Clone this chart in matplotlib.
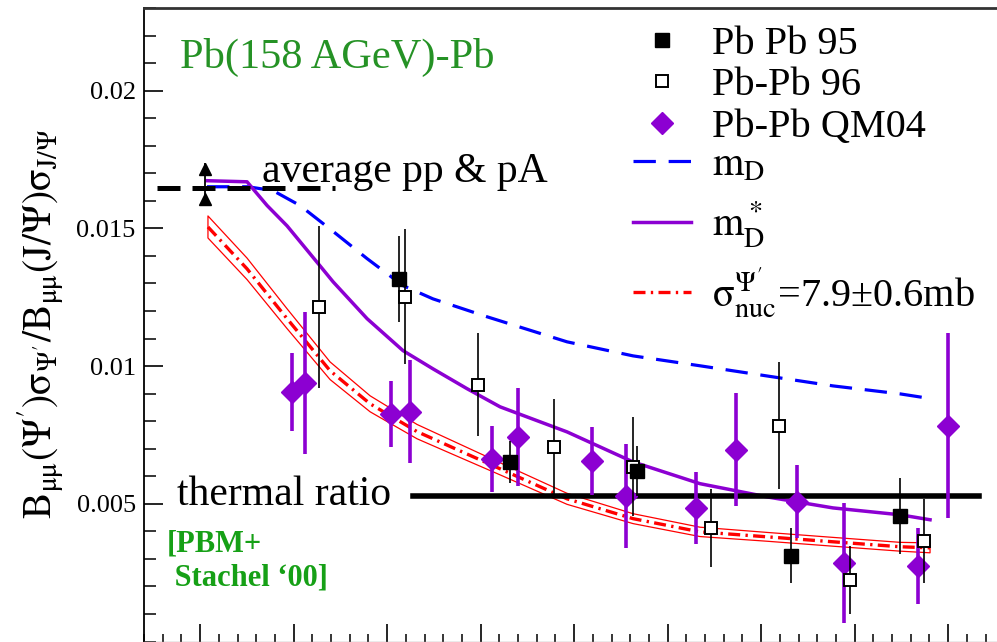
import matplotlib

matplotlib.use("Agg")
import matplotlib.pyplot as plt
from matplotlib.ticker import MultipleLocator, FixedLocator

plt.rcParams["font.family"] = ["Liberation Serif", "DejaVu Serif"]
plt.rcParams["mathtext.fontset"] = "stix"

PURPLE = "#8C00D2"
GREEN = "#259225"

# Pb-Pb 95 (filled squares)
pb95_x = [156.4, 215.7, 283.6, 366.0, 424.3]
pb95_y = [0.01317, 0.00653, 0.00620, 0.00311, 0.00456]
pb95_err = [0.00157, 0.00076, 0.00090, 0.00100, 0.00138]

# Pb-Pb 96 (open squares)
pb96_x = [113.6, 159.6, 198.6, 239.3, 281.5, 323.2, 359.6, 397.5, 437.1]
pb96_y = [0.01215, 0.01252, 0.00932, 0.00707, 0.00634, 0.00413, 0.00783, 0.00224, 0.00366]
pb96_err = [0.00294, 0.00244, 0.00187, 0.00174, 0.00180, 0.00142, 0.00230, 0.00123, 0.00153]

# Pb-Pb QM04 (diamonds)
qm04_x = [99.1, 106.1, 152.1, 162.2, 206.1, 220.0, 259.6, 277.8, 315.2, 336.6, 369.2, 394.3, 433.9, 449.9]
qm04_y = [0.00907, 0.00939, 0.00827, 0.00834, 0.00663, 0.00743, 0.00656, 0.00529, 0.00485,
          0.00696, 0.00507, 0.00286, 0.00275, 0.00783]
qm04_err = [0.00142, 0.00258, 0.00120, 0.00187, 0.00120, 0.00178, 0.00123, 0.00189, 0.00130,
            0.00205, 0.00133, 0.00218, 0.00138, 0.00336]

# m_D (blue dashed)
md_x = [53.7, 75.6, 89.0, 103.4, 121.1, 139.3, 158.5, 174.5, 203.4, 246.2, 281.5, 317.3, 353.2, 388.4, 424.3, 441.4]
md_y = [0.01651, 0.01651, 0.01637, 0.01583, 0.01489, 0.01390, 0.01292, 0.01244, 0.01179, 0.01088,
        0.01037, 0.01001, 0.00964, 0.00928, 0.00899, 0.00881]

# m_D* (purple solid)
mds_x = [53.7, 75.1, 85.8, 96.5, 114.1, 121.1, 139.3, 158.5, 174.5, 192.7, 210.4, 246.2, 281.5, 317.3,
         353.2, 388.4, 424.3, 440.3]
mds_y = [0.01673, 0.01669, 0.01583, 0.01509, 0.01364, 0.01306, 0.01172, 0.01056, 0.00990, 0.00918,
         0.00852, 0.00761, 0.00652, 0.00573, 0.00525, 0.00485, 0.00460, 0.00442]

# sigma_nuc = 7.9 +- 0.6 mb (red dash-dot with band)
nuc_x = [54.2, 75.1, 96.5, 119.5, 140.9, 166.0, 189.0, 210.4, 246.2, 281.5, 317.3, 353.2, 388.4, 424.3, 440.3]
nuc_y = [0.01505, 0.01353, 0.01172, 0.00983, 0.00863, 0.00762, 0.00692, 0.00627, 0.00518, 0.00446,
         0.00398, 0.00380, 0.00362, 0.00344, 0.00340]
nuc_hi = [0.01545, 0.01392, 0.01208, 0.01015, 0.00892, 0.00788, 0.00716, 0.00649, 0.00538, 0.00464,
          0.00415, 0.00396, 0.00378, 0.00360, 0.00358]
nuc_lo = [0.01465, 0.01314, 0.01136, 0.00951, 0.00834, 0.00736, 0.00668, 0.00605, 0.00498, 0.00428,
          0.00381, 0.00364, 0.00346, 0.00328, 0.00322]

# reference levels
avg_x = [27.0, 122.1]
avg_y = 0.01647
avg_pt_x = 52.6
avg_err = [[0.00062], [0.00091]]
avg_tri_y = [0.01716, 0.01607]
thermal_x = [163.9, 466.5]
thermal_y = 0.00527

y_major = [0.005, 0.01, 0.015, 0.02]
y_labels = ["0.005", "0.01", "0.015", "0.02"]

fig = plt.figure(figsize=(9.97, 6.42), dpi=100)
ax = fig.add_axes([144 / 997, 0.5 / 642, 1 - 144 / 997, 633.5 / 642])
ax.set_xlim(20, 476.1)
ax.set_ylim(0, 0.023)

# theory curves
ax.fill_between(nuc_x, nuc_lo, nuc_hi, facecolor="none", edgecolor="red", linewidth=0.9, zorder=2)
l_nuc, = ax.plot(nuc_x, nuc_y, color="red", linewidth=2.4, linestyle=(0, (3.6, 1.6, 0.7, 1.6)), zorder=3,
                 label=r"$\mathrm{\sigma^{\Psi'}_{nuc}}$=7.9±0.6mb")
l_md, = ax.plot(md_x, md_y, color="blue", linewidth=2.3, linestyle=(0, (7, 4)), zorder=3, label=r"$\mathrm{m_D}$")
l_mds, = ax.plot(mds_x, mds_y, color=PURPLE, linewidth=2.5, zorder=3, label=r"$\mathrm{m_D^*}$")

# reference lines
ax.plot(avg_x, [avg_y, avg_y], color="black", linewidth=3.6, linestyle=(0, (4.6, 2.4)), zorder=4)
ax.errorbar([avg_pt_x], [avg_y], yerr=avg_err, fmt="none", ecolor="black", elinewidth=1.3, zorder=5)
ax.plot([avg_pt_x, avg_pt_x], avg_tri_y, linestyle="none", marker="^", color="black", markersize=8, zorder=5)
ax.plot(thermal_x, [thermal_y, thermal_y], color="black", linewidth=4.0, zorder=4)

# data
ax.errorbar(qm04_x, qm04_y, yerr=qm04_err, fmt="none", ecolor=PURPLE, elinewidth=2.6, zorder=5)
m_qm, = ax.plot(qm04_x, qm04_y, linestyle="none", marker="D", markersize=11.5, color=PURPLE, zorder=6,
                label="Pb-Pb QM04")
ax.errorbar(pb96_x, pb96_y, yerr=pb96_err, fmt="none", ecolor="black", elinewidth=1.2, zorder=7)
m_96, = ax.plot(pb96_x, pb96_y, linestyle="none", marker="s", markersize=9, markerfacecolor="white",
                markeredgecolor="black", markeredgewidth=1.4, zorder=8, label="Pb-Pb 96")
ax.errorbar(pb95_x, pb95_y, yerr=pb95_err, fmt="none", ecolor="black", elinewidth=1.2, zorder=7)
m_95, = ax.plot(pb95_x, pb95_y, linestyle="none", marker="s", markersize=9.5, color="black", zorder=8,
                label="Pb Pb 95")

# axes styling
ax.spines["right"].set_visible(False)
ax.spines["left"].set_linewidth(1.3)
ax.spines["top"].set_linewidth(2.0)
ax.spines["top"].set_color("#333333")
ax.spines["bottom"].set_color("#999999")
ax.spines["bottom"].set_linewidth(1.0)
ax.xaxis.set_major_locator(MultipleLocator(50))
ax.xaxis.set_minor_locator(MultipleLocator(10))
ax.yaxis.set_major_locator(FixedLocator(y_major))
ax.yaxis.set_minor_locator(MultipleLocator(0.001))
ax.set_yticklabels(y_labels)
ax.tick_params(axis="x", which="major", direction="in", length=13, width=1.2, labelbottom=False, top=False)
ax.tick_params(axis="x", which="minor", direction="in", length=6, width=1.1, top=False)
ax.tick_params(axis="y", which="major", direction="in", length=14, width=1.2, labelsize=19, pad=6, right=False)
ax.tick_params(axis="y", which="minor", direction="in", length=8.5, width=1.1, right=False)

# annotations
fig.text(180 / 997, (642 - 68) / 642, "Pb(158 AGeV)-Pb", color=GREEN, fontsize=30.5, va="baseline")
fig.text(262 / 997, (642 - 182) / 642, "average pp & pA", color="black", fontsize=30, va="baseline")
fig.text(177 / 997, (642 - 505) / 642, "thermal ratio", color="black", fontsize=30, va="baseline")
fig.text(167 / 997, (642 - 585) / 642, "[PBM+\n Stachel \u201800]", color="#16A016", fontsize=22,
         fontweight="bold", va="baseline", linespacing=1.2)
fig.text(41 / 997, (642 - 324) / 642,
         r"$\mathrm{B_{\mu\mu}(\Psi')\sigma_{\Psi'}/B_{\mu\mu}(J/\Psi)\sigma_{J/\Psi}}$",
         rotation=90, fontsize=28.5, ha="center", va="center")

# legend: data markers and theory curves in two stacked blocks
leg_common = dict(loc="upper left", bbox_transform=fig.transFigure, frameon=False, fontsize=29,
                  numpoints=1, handlelength=1.45, handletextpad=0.5, borderpad=0, borderaxespad=0)
leg1 = ax.legend(handles=[m_95, m_96, m_qm], bbox_to_anchor=(633 / 997, (642 - 26) / 642),
                 labelspacing=0.1, **leg_common)
ax.add_artist(leg1)
ax.legend(handles=[l_md, l_mds, l_nuc], bbox_to_anchor=(633 / 997, (642 - 147) / 642),
          labelspacing=0.38, **leg_common)

fig.savefig("out.png", dpi=100)
